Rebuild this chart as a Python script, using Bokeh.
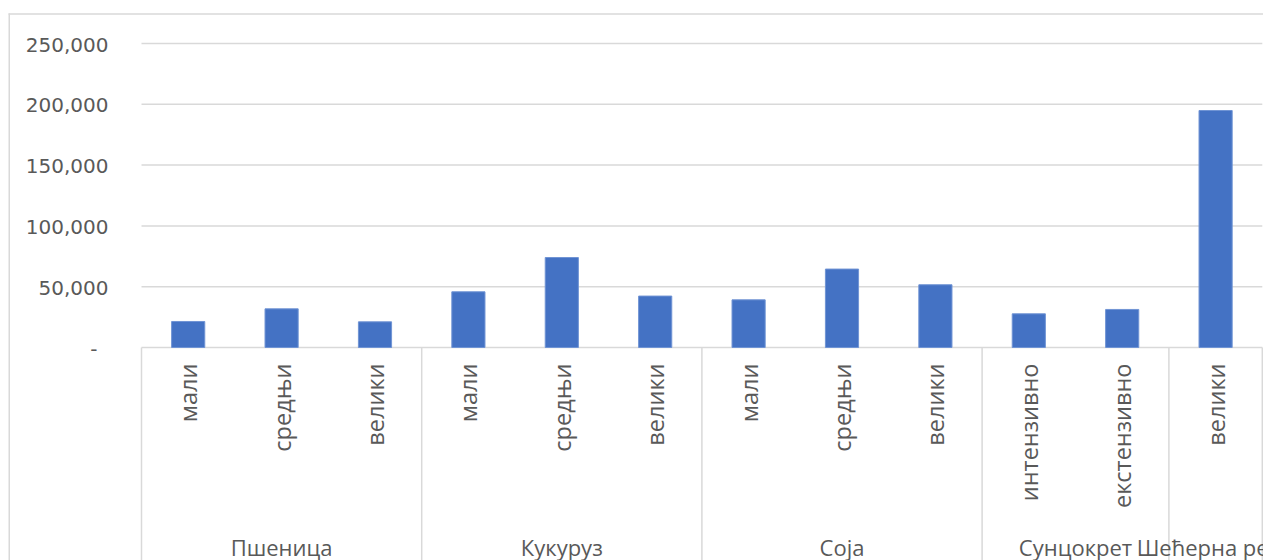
from math import pi
from bokeh.plotting import figure
from bokeh.models import Range1d, ColumnDataSource
from bokeh.core.properties import value
from bokeh.embed import file_html
from bokeh.resources import INLINE

# ---- data ----
crops = ["Пшеница", "Пшеница", "Пшеница",
         "Кукуруз", "Кукуруз", "Кукуруз",
         "Соја", "Соја", "Соја",
         "Сунцокрет", "Сунцокрет",
         "Шећерна репа"]
farm_types = ["мали", "средњи", "велики",
              "мали", "средњи", "велики",
              "мали", "средњи", "велики",
              "интензивно", "екстензивно",
              "велики"]
amounts = [21400, 31800, 21100,
           45800, 74000, 42300,
           39200, 64500, 51600,
           27700, 31300,
           194900]
y_ticks = [0, 50000, 100000, 150000, 200000, 250000]
y_tick_labels = ["-", "50,000", "100,000", "150,000", "200,000", "250,000"]

# ---- layout (pixels inside the figure) ----
W, H = 1263, 560
X_LEFT = 141.0      # left edge of category axis
CAT_W = 93.4        # width of one category
Y_ZERO = 347.0      # pixel row of value 0
Y_TOP = 43.0        # pixel row of the top tick
K = (Y_ZERO - Y_TOP) / y_ticks[-1]

def dx(px):
    return (px - X_LEFT) / CAT_W - 0.5

def dy(py):
    return (Y_ZERO - py) / K

GRID = "#d9d9d9"
TEXT = "#595959"
BAR = "#4472C4"
FONT = value("Open Sans")

p = figure(width=W, height=H,
           x_range=Range1d(dx(0), dx(W)), y_range=Range1d(dy(H), dy(0)),
           output_backend="svg", toolbar_location=None,
           x_axis_type=None, y_axis_type=None, min_border=0)
p.outline_line_color = None
p.background_fill_color = "white"
p.border_fill_color = "white"

# group structure derived from the data
idx = list(range(len(crops)))
groups = []
for c in crops:
    if c not in groups:
        groups.append(c)
starts = [crops.index(g) for g in groups]
counts = [crops.count(g) for g in groups]
centers = [s + (n - 1) / 2 for s, n in zip(starts, counts)]
bounds = [s - 0.5 for s in starts] + [len(crops) - 0.5]

# chart-area border (left and top edges visible)
p.segment(x0=[dx(8.75), dx(8)], y0=[dy(13), dy(13.5)],
          x1=[dx(8.75), dx(W)], y1=[dy(H), dy(13.5)],
          line_color=GRID, line_width=1.5)

# horizontal gridlines (the 0 line is the top of the category table)
p.segment(x0=[-0.5] * len(y_ticks), y0=y_ticks,
          x1=[len(crops) - 0.5] * len(y_ticks), y1=y_ticks,
          line_color=GRID, line_width=1.5)

# vertical separators of the category table
p.segment(x0=bounds, y0=[0] * len(bounds),
          x1=bounds, y1=[dy(H) - 1] * len(bounds),
          line_color=GRID, line_width=1.5)

# bars
src = ColumnDataSource(dict(x=idx, top=amounts, crop=crops, sub=farm_types))
p.vbar(x="x", top="top", bottom=0, width=0.355, source=src,
       fill_color=BAR, line_color="#7094d4", line_width=1)

# y tick labels
ysrc = ColumnDataSource(dict(y=y_ticks, t=y_tick_labels,
                             xo=[-11 if v == 0 else 0 for v in y_ticks]))
p.text(x=dx(108), y="y", text="t", x_offset="xo", y_offset=1, source=ysrc,
       text_align="right", text_baseline="middle",
       text_font=value("DejaVu Sans"), text_font_size="20px", text_color=TEXT)

# sub-category labels (vertical)
p.text(x="x", y=0, text="sub", source=src, angle=pi / 2, y_offset=16,
       text_align="right", text_baseline="middle",
       text_font=FONT, text_font_size="23.5px", text_color=TEXT)

# group labels
gsrc = ColumnDataSource(dict(x=centers, t=groups))
p.text(x="x", y=0, text="t", source=gsrc, y_offset=199,
       text_align="center", text_baseline="middle",
       text_font=FONT, text_font_size="22px", text_color=TEXT)

open("out.html", "w").write(file_html(p, INLINE))
